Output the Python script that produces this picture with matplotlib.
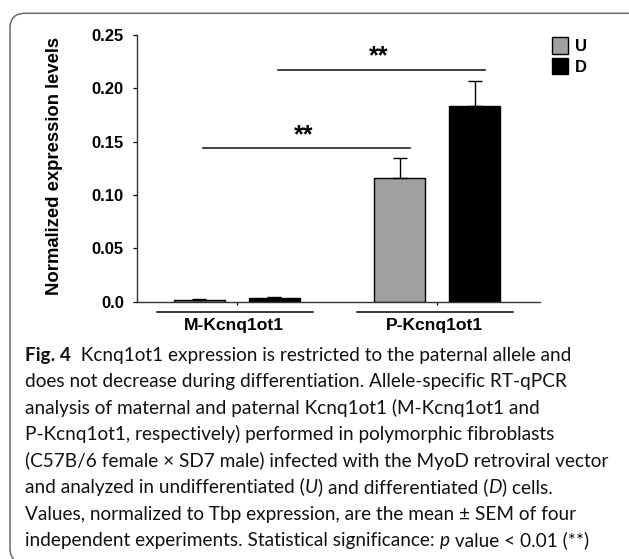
import matplotlib
matplotlib.use('Agg')
import matplotlib.pyplot as plt
from matplotlib.patches import FancyBboxPatch
from matplotlib.transforms import IdentityTransform

groups = ['M-Kcnq1ot1', 'P-Kcnq1ot1']
series = ['U', 'D']
means = {'U': [0.002, 0.1157], 'D': [0.003, 0.1834]}
sems = {'U': [0.0008, 0.0193], 'D': [0.0018, 0.0238]}
colors = {'U': '#a0a0a0', 'D': '#000000'}
y_ticks = [0.0, 0.05, 0.10, 0.15, 0.20, 0.25]
y_tick_labels = ['0.0', '0.05', '0.10', '0.15', '0.20', '0.25']
# significance brackets: from bar, to bar, height, label
sig = [(('U', 0), ('U', 1), 0.1438, '**'), (('D', 0), ('D', 1), 0.2172, '**')]

caption = [
    [('Fig. 4', 'bold'), ('  Kcnq1ot1 expression is restricted to the paternal allele and', 'normal')],
    [('does not decrease during differentiation. Allele-specific RT-qPCR', 'normal')],
    [('analysis of maternal and paternal Kcnq1ot1 (M-Kcnq1ot1 and', 'normal')],
    [('P-Kcnq1ot1, respectively) performed in polymorphic fibroblasts', 'normal')],
    [('(C57B/6 female \u00d7 SD7 male) infected with the MyoD retroviral vector', 'normal')],
    [('and analyzed in undifferentiated (', 'normal'), ('U', 'italic'), (') and differentiated (', 'normal'),
     ('D', 'italic'), (') cells.', 'normal')],
    [('Values, normalized to Tbp expression, are the mean \u00b1 SEM of four', 'normal')],
    [('independent experiments. Statistical significance: ', 'normal'), ('p', 'italic'),
     (' value < 0.01 (**)', 'normal')],
]

W, H = 629, 559
fig = plt.figure(figsize=(W / 100, H / 100), dpi=100)

# rounded frame round the whole panel (pixel coords, origin bottom left)
frame = FancyBboxPatch((10, -4), W + 40, H - 13.3 + 4,
                       boxstyle='round,pad=0,rounding_size=15', transform=IdentityTransform(),
                       fc='none', ec='#6a6a6a', lw=1.1, clip_on=False)
fig.patches.append(frame)

ax = fig.add_axes([136.7 / W, 1 - 301.7 / H, 402.8 / W, 266.7 / H])
offset = 0.187
width = 0.252


def bar_x(s, g):
    return g + (series.index(s) - 0.5) * 2 * offset


for s in series:
    xs = [bar_x(s, g) for g in range(len(groups))]
    ax.bar(xs, means[s], width, color=colors[s], edgecolor='black', lw=1.0,
           yerr=[[0] * len(groups), sems[s]],
           error_kw=dict(ecolor='black', elinewidth=1.0, capsize=4.7, capthick=1.0),
           label=s, zorder=2)

ax.set_xlim(-0.499, 1.51)
ax.set_ylim(0, 0.25)
ax.set_yticks(y_ticks)
ax.set_yticklabels(y_tick_labels, fontsize=12, fontweight='bold', family='Liberation Sans')
ax.set_xticks(range(len(groups)))
ax.set_xticklabels([])
ax.tick_params(axis='x', length=2.2, width=0.9)
ax.tick_params(axis='y', length=3, width=0.9, pad=6.3)
for sp in ['left', 'bottom']:
    ax.spines[sp].set_linewidth(1.0)
    ax.spines[sp].set_color('#333333')
ax.spines['top'].set_visible(False)
ax.spines['right'].set_visible(False)
ax.set_ylabel('Normalized expression levels', fontsize=13.3, fontweight='bold', family='Liberation Sans')
ax.yaxis.set_label_coords(-0.184, 0.51)

for a, b, h, lab in sig:
    x0 = bar_x(*a) + 0.017
    x1 = bar_x(*b) + 0.05
    ax.plot([x0, x1], [h, h], color='#222222', lw=1.2, clip_on=False)
    ax.text((x0 + x1) / 2 - 0.012, h + 0.0125, lab, ha='center', va='center', fontsize=18,
            fontweight='bold', family='Liberation Sans')

# group underlines and labels under the axis
trans = ax.get_xaxis_transform()
for g, name in enumerate(groups):
    ax.plot([g - 0.40, g + 0.38], [-0.0375, -0.0375], color='black', lw=1.1, transform=trans, clip_on=False)
    ax.text(g - 0.012, -0.091, name, ha='center', va='center', transform=trans,
            fontsize=12.6, fontweight='bold', family='Liberation Sans')

leg = ax.legend(loc='upper left', bbox_to_anchor=(552.3 / W, 1 - 37.5 / H),
                bbox_transform=fig.transFigure, frameon=False, borderpad=0, borderaxespad=0,
                handlelength=0.92, handleheight=1.16, handletextpad=0.44, labelspacing=0.2,
                prop=dict(family='Liberation Sans', weight='bold', size=12))
for p in leg.get_patches():
    p.set_linewidth(1.0)

# caption, drawn piece by piece so bold / italic parts sit inline
fig.canvas.draw()
renderer = fig.canvas.get_renderer()
y = 1 - 360.7 / H
for line in caption:
    x = 25 / W
    for txt, style in line:
        kw = dict(fontsize=13.7, family=['Lato', 'DejaVu Sans'], va='baseline', ha='left', color='#111111')
        if style == 'bold':
            kw['fontweight'] = 'bold'
        if style == 'italic':
            kw['fontstyle'] = 'italic'
        t = fig.text(x, y, txt, **kw)
        bb = t.get_window_extent(renderer=renderer)
        x += bb.width / W
    y -= 26.5 / H

fig.savefig('out.png', dpi=100)
